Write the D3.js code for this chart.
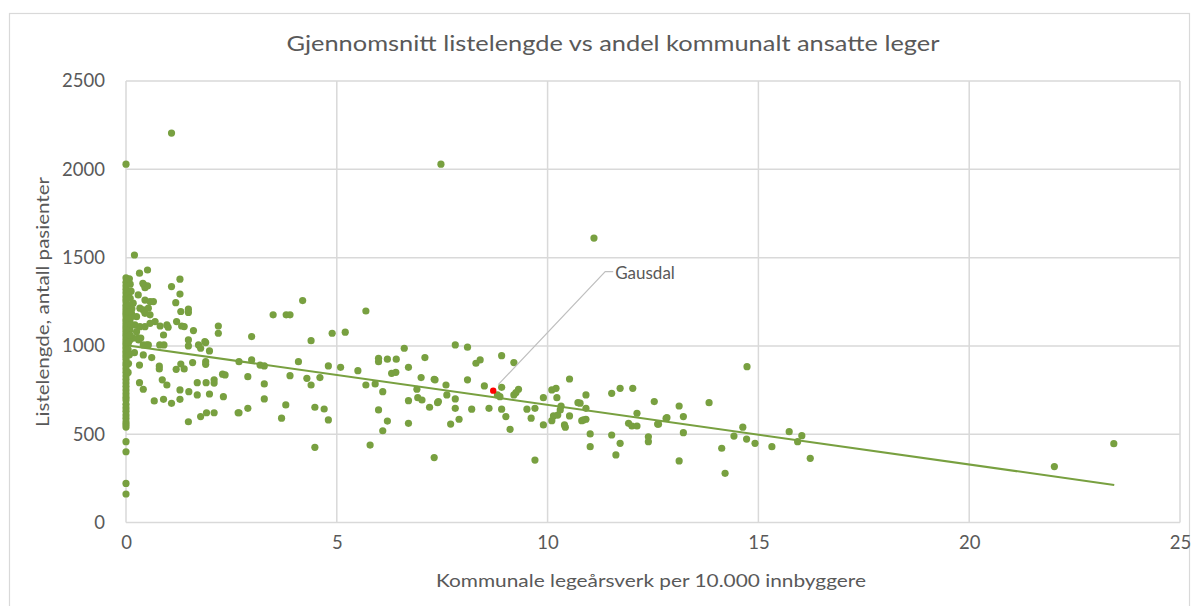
<!DOCTYPE html>
<html><head><meta charset="utf-8">
<script src="https://cdn.jsdelivr.net/npm/d3@7"></script>
<style>body{margin:0;background:#fff;} text{font-family:Lato,"Open Sans",sans-serif;}</style>
</head><body><svg id="c" width="1195" height="606"></svg>
<script>
const titleText = "Gjennomsnitt listelengde vs andel kommunalt ansatte leger";
const xTitle = "Kommunale legeårsverk per 10.000 innbyggere";
const yTitle = "Listelengde,  antall pasienter";
const xTicks = [0, 5, 10, 15, 20, 25];
const yTicks = [0, 500, 1000, 1500, 2000, 2500];

// municipalities with (almost) no municipal doctors: listelengde only
const zeroY = [2029,1385,1360,1340,1320,1300,1280,1265,1250,1230,1215,1200,1185,1170,1150,1135,1120,1105,1090,1075,1060,1045,1030,1015,1000,985,970,955,940,925,905,890,870,850,830,810,790,770,750,730,710,694,670,649,630,609,590,569,555,541,458,401,222,162];

// [legeårsverk per 10.000, listelengde]
const points = [
[0.20,1515],[0.32,1412],[0.51,1430],[0.42,1348],[0.45,1330],[0.51,1340],[1.08,1336],[1.28,1378],[1.28,1294],[1.18,1245],
[1.30,1195],[1.48,1208],[1.48,1190],[0.29,1289],[0.81,1113],[0.97,1119],[1.0,1106],[1.20,1138],[1.32,1113],[1.38,1110],
[1.60,1087],[2.19,1113],[2.19,1072],[1.48,1034],[1.48,1000],[1.72,1006],[1.77,987],[1.89,1019],[1.98,972],[0.89,1062],
[0.80,1006],[0.90,1006],[0.41,1006],[0.49,1006],[0.30,1034],[0.35,1045],[0.20,962],[0.41,949],[0.61,934],[0.32,892],
[0.79,886],[0.79,870],[1.19,868],[1.30,898],[1.38,870],[1.58,906],[1.89,911],[1.89,896],[2.29,840],[0.32,792],
[0.41,755],[0.86,808],[0.97,779],[1.69,792],[1.90,792],[2.09,808],[2.09,790],[1.28,751],[1.49,741],[1.69,723],
[1.98,728],[2.31,713],[0.67,689],[0.89,698],[1.08,675],[1.28,698],[2.66,622],[1.48,571],[1.77,600],[1.91,622],[2.09,622],
[0.40,1355],[0.45,1260],[0.57,1251],[0.65,1251],[0.17,1242],[0.33,1214],[0.41,1204],[0.53,1214],[0.13,1185],[0.25,1166],
[0.45,1185],[0.57,1176],[0.09,1138],[0.21,1119],[0.33,1109],[0.45,1109],[0.57,1128],[0.69,1138],[0.09,1091],[0.25,1081],
[0.29,1044],[0.53,1006],[0.17,1044],[0.09,1034],[1.87,1024],
[0.08,1380],[0.10,1350],[0.12,1310],[0.06,1290],[0.10,1270],[0.08,1230],[0.14,1210],[0.07,1190],[0.11,1160],[0.06,1150],
[0.12,1120],[0.10,1060],[0.06,1020],[0.05,980],[0.08,950],[0.06,900],[0.05,850],
[4.19,1257],[3.49,1176],[3.80,1176],[3.89,1176],[5.69,1198],[2.98,1053],[4.39,1030],[4.89,1072],[5.20,1078],[6.60,987],
[5.99,930],[5.99,911],[6.20,925],[6.41,925],[7.09,934],[2.68,911],[2.98,921],[3.18,892],[3.28,887],[4.09,911],
[4.80,887],[5.09,879],[5.50,860],[6.70,879],[6.30,845],[6.40,851],[2.89,826],[3.89,832],[4.29,817],[4.60,821],
[4.39,779],[7.0,821],[7.31,811],[2.35,836],[3.28,785],[5.69,779],[5.91,785],[6.09,741],[6.90,755],[6.92,707],
[7.02,694],[6.70,690],[7.20,653],[7.39,679],[3.28,700],[2.68,622],[2.89,647],[3.79,666],[3.69,591],[4.48,653],
[4.70,643],[4.80,581],[5.99,638],[6.20,575],[6.09,520],[6.70,562],[4.48,426],[5.79,439],[7.31,368],
[7.81,1006],[8.10,993],[8.91,945],[9.20,906],[8.30,902],[8.40,921],[7.33,808],[7.59,779],[7.61,723],[7.41,685],
[8.10,808],[8.50,774],[8.91,766],[8.87,713],[8.81,723],[9.20,723],[9.31,755],[9.25,736],[7.81,700],[7.81,647],
[8.20,642],[8.61,647],[8.91,642],[7.90,585],[7.70,558],[9.01,600],[9.11,528],[9.51,642],[9.70,647],[9.61,591],
[9.90,707],[10.10,751],[10.20,760],[10.22,707],[10.52,813],[9.90,553],[10.10,577],[10.14,604],[10.24,609],[10.32,660],
[10.30,638],[10.40,553],[10.42,540],[10.52,604],[10.72,679],[10.91,723],[10.91,647],[10.81,577],[10.91,585],[11.01,502],
[11.01,430],[11.52,732],[11.72,760],[12.02,760],[11.52,496],[11.72,449],[11.62,383],[12.12,619],[11.92,562],[12.0,547],
[12.12,547],[12.39,486],[12.39,458],[9.70,354],[10.77,676],[10.85,581],[12.63,557],[12.81,590],
[14.73,883],[12.53,685],[13.12,660],[13.83,679],[12.83,594],[13.22,600],[12.61,558],[13.22,509],[13.12,349],[14.13,421],
[14.21,279],[14.63,540],[14.42,490],[14.72,473],[14.92,449],[15.32,430],[15.73,515],[16.03,492],[15.93,458],[16.23,364],
[1.08,2205],[7.47,2029],[11.10,1611],[22.02,317],[23.43,447]
];
const gausdal = {name: "Gausdal", x: 8.71, y: 747};
const trendX = [0, 23.44];
const trendY = [1004, 213];

const svg = d3.select("#c");
const m = {l:126, r:1180, t:81, b:522.6};
const x = d3.scaleLinear().domain([0,25]).range([m.l, m.r]);
const y = d3.scaleLinear().domain([0,2500]).range([m.b, m.t]);
const grey = "#d9d9d9", txt = "#595959", green = "#78A040";

// chart border
svg.append("rect").attr("x",9.5).attr("y",13.5).attr("width",1180).attr("height",620)
  .attr("fill","none").attr("stroke",grey).attr("stroke-width",1.2);

// gridlines
svg.append("g").selectAll("line.h").data(yTicks).join("line")
  .attr("x1",m.l).attr("x2",m.r).attr("y1",d=>y(d)).attr("y2",d=>y(d))
  .attr("stroke",grey).attr("stroke-width",1.5);
svg.append("g").selectAll("line.v").data(xTicks).join("line")
  .attr("y1",m.t).attr("y2",m.b).attr("x1",d=>x(d)).attr("x2",d=>x(d))
  .attr("stroke",grey).attr("stroke-width",1.5);

// axes labels via d3 axes
const xAxis = svg.append("g").attr("transform",`translate(0,${m.b})`)
  .call(d3.axisBottom(x).tickValues(xTicks).tickSize(0).tickPadding(13).tickFormat(d3.format("d")));
const yAxis = svg.append("g").attr("transform",`translate(${m.l},0)`)
  .call(d3.axisLeft(y).tickValues(yTicks).tickSize(0).tickPadding(21).tickFormat(d3.format("d")));
[xAxis,yAxis].forEach(a=>{a.select(".domain").remove();
  a.selectAll("text").attr("fill",txt).style("font-size","18.5px").style("font-family","Lato");});

// trendline
svg.append("line").attr("x1",x(trendX[0])).attr("y1",y(trendY[0]))
  .attr("x2",x(trendX[1])).attr("y2",y(trendY[1]))
  .attr("stroke",green).attr("stroke-width",2);

// points
const all = zeroY.map(v=>[0,v]).concat(points);
svg.append("g").selectAll("circle").data(all).join("circle")
  .attr("cx",d=>x(d[0])).attr("cy",d=>y(d[1])).attr("r",3.6).attr("fill",green);

// Gausdal
const gx = x(gausdal.x), gy = y(gausdal.y);
svg.append("polyline").attr("points",`${gx+5},${gy-6} ${gx+112},${gy-119} ${gx+120},${gy-119}`)
  .attr("fill","none").attr("stroke","#bfbfbf").attr("stroke-width",1.2);
svg.append("circle").attr("cx",gx).attr("cy",gy).attr("r",3.2).attr("fill","#ff0000");
svg.append("text").attr("x",gx+122).attr("y",gy-112).text(gausdal.name)
  .attr("fill",txt).style("font-size","17px");

// titles
svg.append("text").attr("x",613).attr("y",51).attr("text-anchor","middle").text(titleText)
  .attr("fill",txt).style("font-size","22px").attr("textLength",653).attr("lengthAdjust","spacingAndGlyphs");
svg.append("text").attr("x",651).attr("y",587).attr("text-anchor","middle").text(xTitle)
  .attr("fill",txt).style("font-size","18px").attr("textLength",430).attr("lengthAdjust","spacingAndGlyphs");
svg.append("text").attr("transform","translate(49,302) rotate(-90)").attr("text-anchor","middle").text(yTitle)
  .attr("fill",txt).style("font-size","17px").attr("textLength",250).attr("lengthAdjust","spacingAndGlyphs");
</script></body></html>
